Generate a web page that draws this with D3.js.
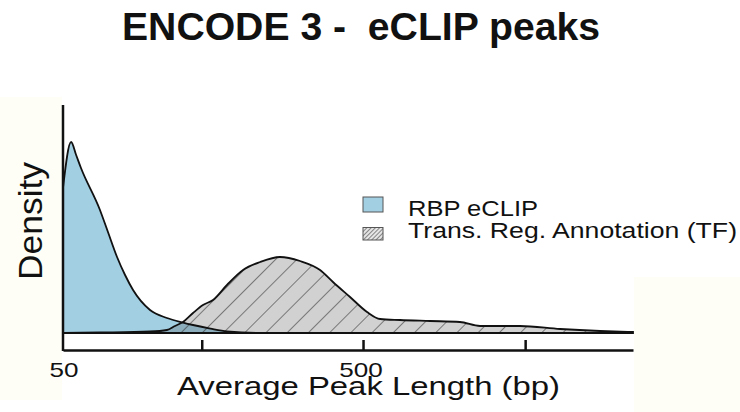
<!DOCTYPE html>
<html>
<head>
	<meta charset="utf-8">
	<title>ENCODE 3 - eCLIP peaks</title>
	<script src="https://d3js.org/d3.v7.min.js"></script>
	<style>
		body { margin: 0; background: #fff; }
		text { font-family: "Liberation Sans", Arial, sans-serif; fill: #111; }
	</style>
</head>
<body>
<div id="chart"></div>
<script type="text/javascript">
// peak length (bp) and density
var rbpLength  = [50, 53.2, 55.3, 57.4, 66.4, 70.6, 75.7, 80.5, 85.6, 97.5, 111, 125.6, 135.6, 155, 176, 227, 400, 1000, 3970];
var rbpDensity = [0.725, 0.955, 0.89, 0.825, 0.615, 0.505, 0.38, 0.29, 0.215, 0.115, 0.075, 0.052, 0.04, 0.022, 0.008, 0, 0, 0, 0];

var tfLength  = [50, 66.4, 97.5, 111, 118.1, 125.6, 135.6, 146.4, 158.1, 176, 199.1, 227, 264.3, 308.3, 359.5, 397, 452.5, 515.6, 570, 664, 836, 1052, 1227, 1667, 2269, 3083, 3970];
var tfDensity = [0, 0.0025, 0.0075, 0.015, 0.035, 0.055, 0.10, 0.14, 0.165, 0.24, 0.315, 0.355, 0.38, 0.36, 0.315, 0.255, 0.18, 0.105, 0.07, 0.065, 0.06, 0.055, 0.035, 0.035, 0.02, 0.01, 0.005];

var xTickValues = [145, 500, 1735];
var xLabelValues = [50, 500];
var xLabels = ['50', '500'];

var legendLabels = ['RBP eCLIP', 'Trans. Reg. Annotation (TF)'];

var width = 740, height = 412;
var plot = {left: 63, right: 633, base: 333, top: 105, axisY: 350};

var svg = d3.select('#chart')
	.append('svg')
		.attr('width', width)
		.attr('height', height);

// faint cream patches of the scanned figure
svg.append('rect').attr('x', 0).attr('y', 97).attr('width', 62).attr('height', 303).attr('fill', '#fefef6');
svg.append('rect').attr('x', 634).attr('y', 277).attr('width', 106).attr('height', 135).attr('fill', '#fefef6');

var defs = svg.append('defs');
defs.append('pattern')
	.attr('id', 'hatch')
	.attr('patternUnits', 'userSpaceOnUse')
	.attr('width', 15).attr('height', 15)
	.attr('patternTransform', 'translate(4,0) rotate(45)')
	.append('line')
		.attr('x1', 0).attr('y1', 0).attr('x2', 0).attr('y2', 15)
		.attr('stroke', '#2e2e2e').attr('stroke-width', 1.1);
var small = defs.append('pattern')
	.attr('id', 'hatchSmall')
	.attr('patternUnits', 'userSpaceOnUse')
	.attr('width', 3).attr('height', 3)
	.attr('patternTransform', 'rotate(45)');
small.append('rect').attr('width', 3).attr('height', 3).attr('fill', '#e6e6e6');
small.append('line')
	.attr('x1', 0).attr('y1', 0).attr('x2', 0).attr('y2', 3)
	.attr('stroke', '#444').attr('stroke-width', 1.2);

var x = d3.scaleLog()
	.domain([50, 3970])
	.range([plot.left, plot.right]);

var y = d3.scaleLinear()
	.domain([0, 1.14])
	.range([plot.base, plot.top]);

var rbp = rbpLength.map(function(d, i){ return {len: d, dens: rbpDensity[i]}; });
var tf = tfLength.map(function(d, i){ return {len: d, dens: tfDensity[i]}; });

var area = d3.area()
	.x(function(d){ return x(d.len); })
	.y0(y(0))
	.y1(function(d){ return y(d.dens); })
	.curve(d3.curveMonotoneX);
var line = d3.line()
	.x(function(d){ return x(d.len); })
	.y(function(d){ return y(d.dens); })
	.curve(d3.curveMonotoneX);

// RBP fill
svg.append('path')
	.datum(rbp)
	.attr('d', area)
	.attr('fill', '#a3cfe3');

// TF fill, partly see-through over the blue
svg.append('path')
	.datum(tf)
	.attr('d', area)
	.attr('fill', 'rgb(79,79,79)')
	.attr('fill-opacity', 0.26);
svg.append('path')
	.datum(tf)
	.attr('d', area)
	.attr('fill', 'url(#hatch)');

// outlines
svg.append('path')
	.datum(rbp)
	.attr('d', line)
	.attr('fill', 'none')
	.attr('stroke', '#111')
	.attr('stroke-width', 1.8);
svg.append('path')
	.datum(tf)
	.attr('d', area)
	.attr('fill', 'none')
	.attr('stroke', '#111')
	.attr('stroke-width', 1.8);

// axes
var xAxis = d3.axisBottom(x)
	.tickValues(xTickValues)
	.tickSizeInner(-10)
	.tickSizeOuter(0)
	.tickFormat('');

var gx = svg.append('g')
	.attr('transform', 'translate(0,' + plot.axisY + ')')
	.call(xAxis);
gx.select('.domain').attr('stroke', '#111').attr('stroke-width', 2.5);
gx.selectAll('.tick line').attr('stroke', '#111').attr('stroke-width', 2.5);

svg.selectAll('text.xlab')
	.data(xLabelValues)
	.enter()
	.append('text')
		.attr('class', 'xlab')
		.attr('x', function(d){ return x(d) + (d === 50 ? 1 : -2); })
		.attr('y', 377)
		.attr('text-anchor', 'middle')
		.style('font-size', '21px')
		.attr('textLength', function(d, i){ return xLabels[i].length * 14.5; })
		.attr('lengthAdjust', 'spacingAndGlyphs')
		.text(function(d, i){ return xLabels[i]; });

svg.append('line')
	.attr('x1', plot.left).attr('x2', plot.left)
	.attr('y1', y(1.14)).attr('y2', plot.axisY + 1)
	.attr('stroke', '#111')
	.attr('stroke-width', 2.5);

// titles
svg.append('text')
	.attr('x', 361).attr('y', 40)
	.attr('text-anchor', 'middle')
	.style('font-size', '38px')
	.style('font-weight', 'bold')
	.style('white-space', 'pre')
	.attr('textLength', 478)
	.attr('lengthAdjust', 'spacingAndGlyphs')
	.text('ENCODE 3 -  eCLIP peaks');

svg.append('text')
	.attr('x', 368.5).attr('y', 395)
	.attr('text-anchor', 'middle')
	.style('font-size', '25px')
	.attr('textLength', 383)
	.attr('lengthAdjust', 'spacingAndGlyphs')
	.text('Average Peak Length (bp)');

svg.append('text')
	.attr('transform', 'translate(42,221) rotate(-90)')
	.attr('text-anchor', 'middle')
	.style('font-size', '34px')
	.attr('textLength', 118)
	.attr('lengthAdjust', 'spacingAndGlyphs')
	.text('Density');

// legend
var legend = svg.append('g');
legend.append('rect')
	.attr('x', 363).attr('y', 197).attr('width', 20).attr('height', 15)
	.attr('fill', '#a3cfe3').attr('stroke', '#555').attr('stroke-width', 1);
legend.append('rect')
	.attr('x', 363).attr('y', 227.5).attr('width', 20).attr('height', 12.5)
	.attr('fill', 'url(#hatchSmall)').attr('stroke', '#555').attr('stroke-width', 1);
legend.selectAll('text.leg')
	.data(legendLabels)
	.enter()
	.append('text')
		.attr('class', 'leg')
		.attr('x', 408)
		.attr('y', function(d, i){ return 216 + i * 22; })
		.style('font-size', '22px')
		.attr('textLength', function(d, i){ return i === 0 ? 130 : 329; })
		.attr('lengthAdjust', 'spacingAndGlyphs')
		.text(function(d){ return d; });
</script>
</body>
</html>
